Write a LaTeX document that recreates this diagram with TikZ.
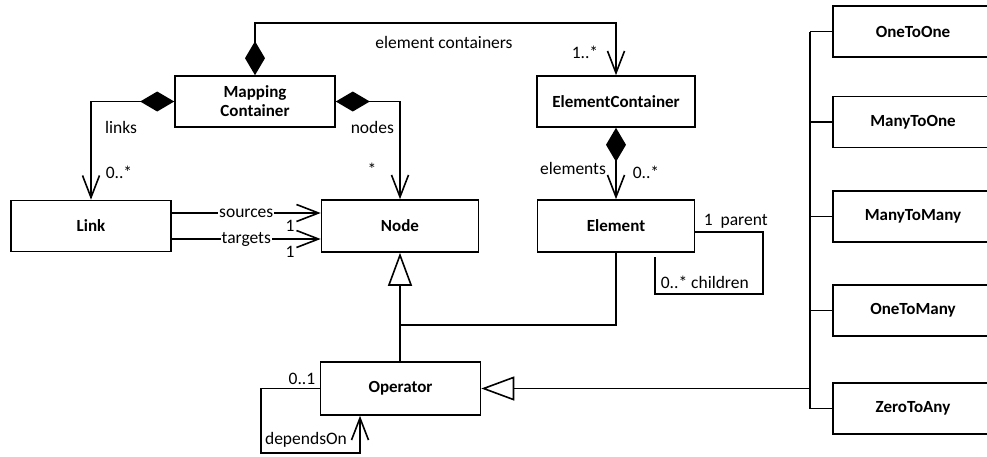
\documentclass[tikz,border=0pt]{standalone}
\usepackage{fontspec}
\setmainfont{Carlito}
\usetikzlibrary{arrows.meta}
\begin{document}
\begin{tikzpicture}[x=1pt,y=-1pt,line width=1.6pt,
  font=\fontsize{17.5}{19}\selectfont,
  cls/.style={draw, rectangle, minimum width=160pt, minimum height=51pt, inner sep=0pt, align=center, font=\fontsize{17}{19}\selectfont\bfseries},
  lbl/.style={inner sep=0pt},
  barb/.style={-{Straight Barb[length=22pt,width=17pt]}},
  compbarb/.style={{Diamond[length=34pt,width=20pt]}-{Straight Barb[length=22pt,width=17pt]}},
  gen/.style={-{Triangle[open,length=33pt,width=24pt,fill=white]}}]
\useasboundingbox (0,0) rectangle (987,456);
\clip (0,0) rectangle (987,456);

% classes
\node[cls] (mc) at (255,101.5) {Mapping\\Container};
\node[cls] (link) at (91,226) {Link};
\node[cls, minimum width=157pt, minimum height=52pt] (node) at (400,226) {Node};
\node[cls, minimum width=158pt] (ec) at (616,101.5) {ElementContainer};
\node[cls, minimum width=157pt, minimum height=52pt] (elem) at (616,226) {Element};
\node[cls, minimum height=53pt] (op) at (400.5,388.5) {Operator};
\node[cls] (r1) at (913,31.5) {OneToOne};
\node[cls] (r2) at (913,122) {ManyToOne};
\node[cls] (r3) at (913,216.5) {ManyToMany};
\node[cls] (r4) at (913,310.5) {OneToMany};
\node[cls] (r5) at (913,408.5) {ZeroToAny};

% coordinates
\coordinate (topbar) at (0,23);
\coordinate (bus) at (810,0);
\coordinate (gbar) at (0,325);
\coordinate (pr) at (763,232);
\coordinate (pb) at (763,294);
\coordinate (cl) at (655,294);
\coordinate (ct) at (655,257);
\coordinate (dl) at (261,388.5);
\coordinate (db) at (261,453);
\coordinate (dr) at (360,453);

% element containers
\draw[compbarb] (mc.north) -- (mc.north |- topbar) -| (ec.north);
\node[lbl] at (444,42) {element containers};
\node[lbl] at (585,52) {1..*};

% links
\draw[compbarb] (mc.west) -| (link.north);
\node[lbl] at (121,127) {links};
\node[lbl] at (119,172) {0..*};

% nodes
\draw[compbarb] (mc.east) -| (node.north);
\node[lbl] at (350,127) [anchor=west] {nodes};
\node[lbl] at (372,169) {*};

% elements
\draw[compbarb] (ec.south) -- (elem.north);
\node[lbl] at (573,168) {elements};
\node[lbl] at (646,172) {0..*};

% sources / targets
\draw[barb] ([yshift=13pt]link.east) -- node[fill=white, inner sep=1pt, pos=0.5] {sources} ([yshift=13pt]node.west);
\draw[barb] ([yshift=-13pt]link.east) -- node[fill=white, inner sep=1pt, pos=0.5] {targets} ([yshift=-13pt]node.west);
\node[lbl] at (290,226) {1};
\node[lbl] at (290,252) {1};

% element parent/children
\draw ([yshift=-6pt]elem.east) -- (pr) -- (pb) -- (cl) -- (ct);
\node[lbl, anchor=west] at (703,221) {1\ \ parent};
\node[lbl, anchor=west] at (660,282) {0..*\ children};

% generalization to Node
\draw (elem.south) -- (elem.south |- gbar) -- (node.south |- gbar);
\draw[gen] (op.north -| node.south) -- (node.south);

% generalization to Operator
\draw (bus |- r1.west) -- (bus |- r5.west);
\draw (r1.west) -- (bus |- r1.west);
\draw (r2.west) -- (bus |- r2.west);
\draw (r3.west) -- (bus |- r3.west);
\draw (r4.west) -- (bus |- r4.west);
\draw (r5.west) -- (bus |- r5.west);
\draw[gen] (bus |- op.east) -- (op.east);

% dependsOn
\draw[barb] (op.west) -- (dl) -- (db) -- (dr) -- (dr |- op.south);
\node[lbl] at (302,379) {0..1};
\node[lbl] at (306,440) {dependsOn};
\end{tikzpicture}
\end{document}
